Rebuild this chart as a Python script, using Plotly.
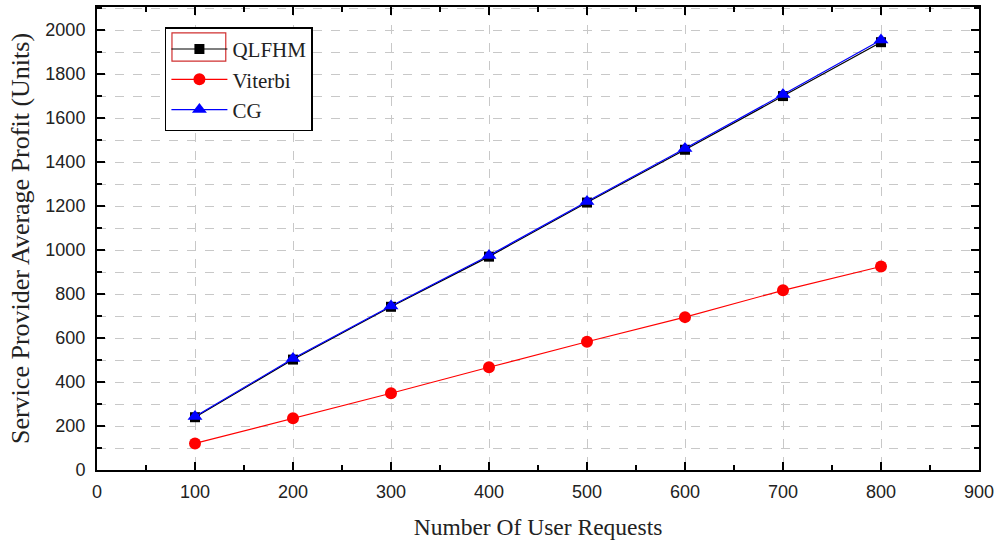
import plotly.graph_objects as go

requests = [100, 200, 300, 400, 500, 600, 700, 800]
qlfhm = [240, 502, 742, 970, 1216, 1456, 1700, 1945]
viterbi = [121, 235, 349, 467, 583, 695, 817, 925]
cg = [243, 507, 746, 975, 1221, 1462, 1707, 1955]

fig = go.Figure()
fig.add_trace(go.Scatter(x=requests, y=qlfhm, name="QLFHM", mode="lines+markers",
                         line=dict(color="black", width=1.2),
                         marker=dict(symbol="square", size=10, color="black")))
fig.add_trace(go.Scatter(x=requests, y=viterbi, name="Viterbi", mode="lines+markers",
                         line=dict(color="red", width=1.2),
                         marker=dict(symbol="circle", size=12, color="red")))
fig.add_trace(go.Scatter(x=requests, y=cg, name="CG", mode="lines+markers",
                         line=dict(color="blue", width=1.2),
                         marker=dict(symbol="triangle-up", size=13, color="blue")))

tickfont = dict(family="Liberation Sans, Arial", size=18, color="#222")
serif = "Liberation Serif, Times New Roman"

# legend background + selection highlight around first legend symbol (paper coords)
fig.add_shape(type="rect", xref="paper", yref="paper", x0=0.078, x1=0.245, y0=0.735, y1=0.955,
              fillcolor="white", line=dict(width=0), layer="above")
fig.add_shape(type="rect", xref="paper", yref="paper", x0=0.085, x1=0.146, y0=0.883, y1=0.944,
              fillcolor="rgba(0,0,0,0)", line=dict(color="#d03030", width=1.2), layer="above")

fig.update_layout(
    width=995, height=541,
    margin=dict(l=97, r=16, t=7, b=71),
    plot_bgcolor="white", paper_bgcolor="white",
    showlegend=True,
    legend=dict(x=0.077, y=0.956, xanchor="left", yanchor="top",
                bordercolor="black", borderwidth=1.5, bgcolor="rgba(255,255,255,0)",
                font=dict(family=serif, size=21, color="#222"),
                itemwidth=56, tracegroupgap=0),
    xaxis=dict(range=[0, 900], dtick=100, tick0=0, showline=True, linecolor="black", linewidth=2,
               mirror="ticks", ticks="inside", ticklen=8, tickwidth=2, tickcolor="black",
               showgrid=True, gridcolor="#c8c8c8", griddash="dash", gridwidth=1,
               zeroline=False, tickfont=tickfont, ticklabelstandoff=4, automargin=False,
               minor=dict(dtick=50, ticks="inside", ticklen=5, tickwidth=2, tickcolor="black", showgrid=False),
               title=dict(text="Number Of User Requests", font=dict(family=serif, size=23.5, color="#222"), standoff=18)),
    yaxis=dict(range=[0, 2105], dtick=200, tick0=0, showline=True, linecolor="black", linewidth=2,
               mirror="ticks", ticks="inside", ticklen=8, tickwidth=2, tickcolor="black",
               showgrid=True, gridcolor="#c8c8c8", griddash="dash", gridwidth=1,
               zeroline=False, tickfont=tickfont, ticklabelstandoff=6, automargin=False,
               minor=dict(dtick=100, ticks="inside", ticklen=5, tickwidth=2, tickcolor="black",
                          showgrid=True, gridcolor="#c8c8c8", griddash="dash", gridwidth=1),
               title=dict(text="Service Provider Average Profit (Units)", font=dict(family=serif, size=26, color="#222"), standoff=8)),
)

fig.write_html("out.html")
